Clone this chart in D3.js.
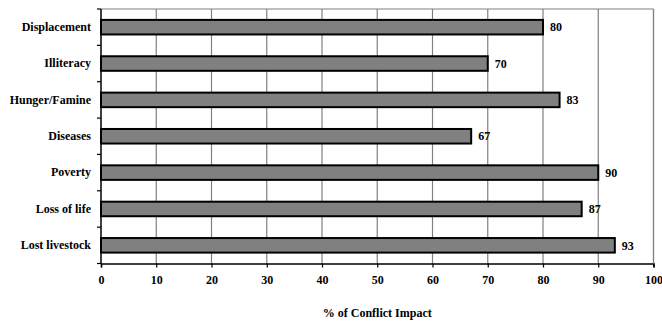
<!DOCTYPE html>
<html>
<head>
<meta charset="utf-8">
<script src="https://cdn.jsdelivr.net/npm/d3@7"></script>
<style>
  html, body { margin: 0; padding: 0; background: #fff; }
  svg { display: block; }
  text { font-family: "Liberation Serif", "Times New Roman", serif; font-weight: bold; font-size: 12px; fill: #000; }
</style>
</head>
<body>
<svg id="chart" width="662" height="323"></svg>
<script>
// Conflict impact categories, top to bottom
const categories = ["Displacement", "Illiteracy", "Hunger/Famine", "Diseases", "Poverty", "Loss of life", "Lost livestock"];
const impactValues = [80, 70, 83, 67, 90, 87, 93];
const xTicks = [0, 10, 20, 30, 40, 50, 60, 70, 80, 90, 100];
const xTitle = "% of Conflict Impact";

const svg = d3.select("#chart");
const plotLeft = 101, plotRight = 653.5, plotTop = 9, plotBottom = 263.5;

const x = d3.scaleLinear().domain([0, 100]).range([plotLeft, plotRight]);
const y = d3.scaleBand().domain(categories).range([plotTop, plotBottom]).paddingInner(0.6).paddingOuter(0.3);
const band = d3.scaleBand().domain(categories).range([plotTop, plotBottom]);

// vertical gridlines
svg.append("g")
  .selectAll("line")
  .data(xTicks.filter(d => d > 0))
  .join("line")
  .attr("x1", d => x(d)).attr("x2", d => x(d))
  .attr("y1", plotTop).attr("y2", plotBottom)
  .attr("stroke", "#808080").attr("stroke-width", 1.2);

// top frame line
svg.append("line")
  .attr("x1", plotLeft).attr("x2", plotRight)
  .attr("y1", plotTop).attr("y2", plotTop)
  .attr("stroke", "#808080").attr("stroke-width", 1.2);

// bars
svg.append("g")
  .selectAll("rect")
  .data(categories)
  .join("rect")
  .attr("x", x(0))
  .attr("y", d => y(d))
  .attr("width", (d, i) => x(impactValues[i]) - x(0))
  .attr("height", y.bandwidth())
  .attr("fill", "#808080")
  .attr("stroke", "#000")
  .attr("stroke-width", 2);

// value labels
svg.append("g")
  .selectAll("text")
  .data(categories)
  .join("text")
  .attr("x", (d, i) => x(impactValues[i]) + 7)
  .attr("y", d => y(d) + y.bandwidth() / 2)
  .attr("dy", "0.35em")
  .text((d, i) => impactValues[i]);

// bottom axis
const xAxis = d3.axisBottom(x).tickValues(xTicks).tickSize(4).tickPadding(8).tickFormat(d3.format("d"));
const gx = svg.append("g").attr("transform", `translate(0,${plotBottom})`).call(xAxis);
gx.select(".domain").attr("stroke", "#000").attr("stroke-width", 1.5);
gx.selectAll(".tick line").attr("stroke", "#000").attr("stroke-width", 1.2);
gx.selectAll(".tick text").attr("font-family", "Liberation Serif, serif").attr("font-weight", "bold").attr("font-size", 12).attr("fill", "#000");

// left axis: ticks at category boundaries, labels at band centres
svg.append("line")
  .attr("x1", plotLeft).attr("x2", plotLeft)
  .attr("y1", plotTop).attr("y2", plotBottom)
  .attr("stroke", "#000").attr("stroke-width", 1.5);
const boundaries = categories.map(c => band(c)).concat([plotBottom]);
svg.append("g")
  .selectAll("line")
  .data(boundaries)
  .join("line")
  .attr("x1", plotLeft - 4).attr("x2", plotLeft)
  .attr("y1", d => d).attr("y2", d => d)
  .attr("stroke", "#000").attr("stroke-width", 1.2);

svg.append("g")
  .selectAll("text")
  .data(categories)
  .join("text")
  .attr("x", 91)
  .attr("y", d => band(d) + band.bandwidth() / 2 - 0.5)
  .attr("dy", "0.35em")
  .attr("text-anchor", "end")
  .text(d => d);

// right frame line
svg.append("line")
  .attr("x1", plotRight).attr("x2", plotRight)
  .attr("y1", plotTop).attr("y2", plotBottom)
  .attr("stroke", "#808080").attr("stroke-width", 1.2);

// axis title
svg.append("text")
  .attr("x", (plotLeft + plotRight) / 2)
  .attr("y", 317)
  .attr("text-anchor", "middle")
  .attr("font-size", 11)
  .text(xTitle);
</script>
</body>
</html>
